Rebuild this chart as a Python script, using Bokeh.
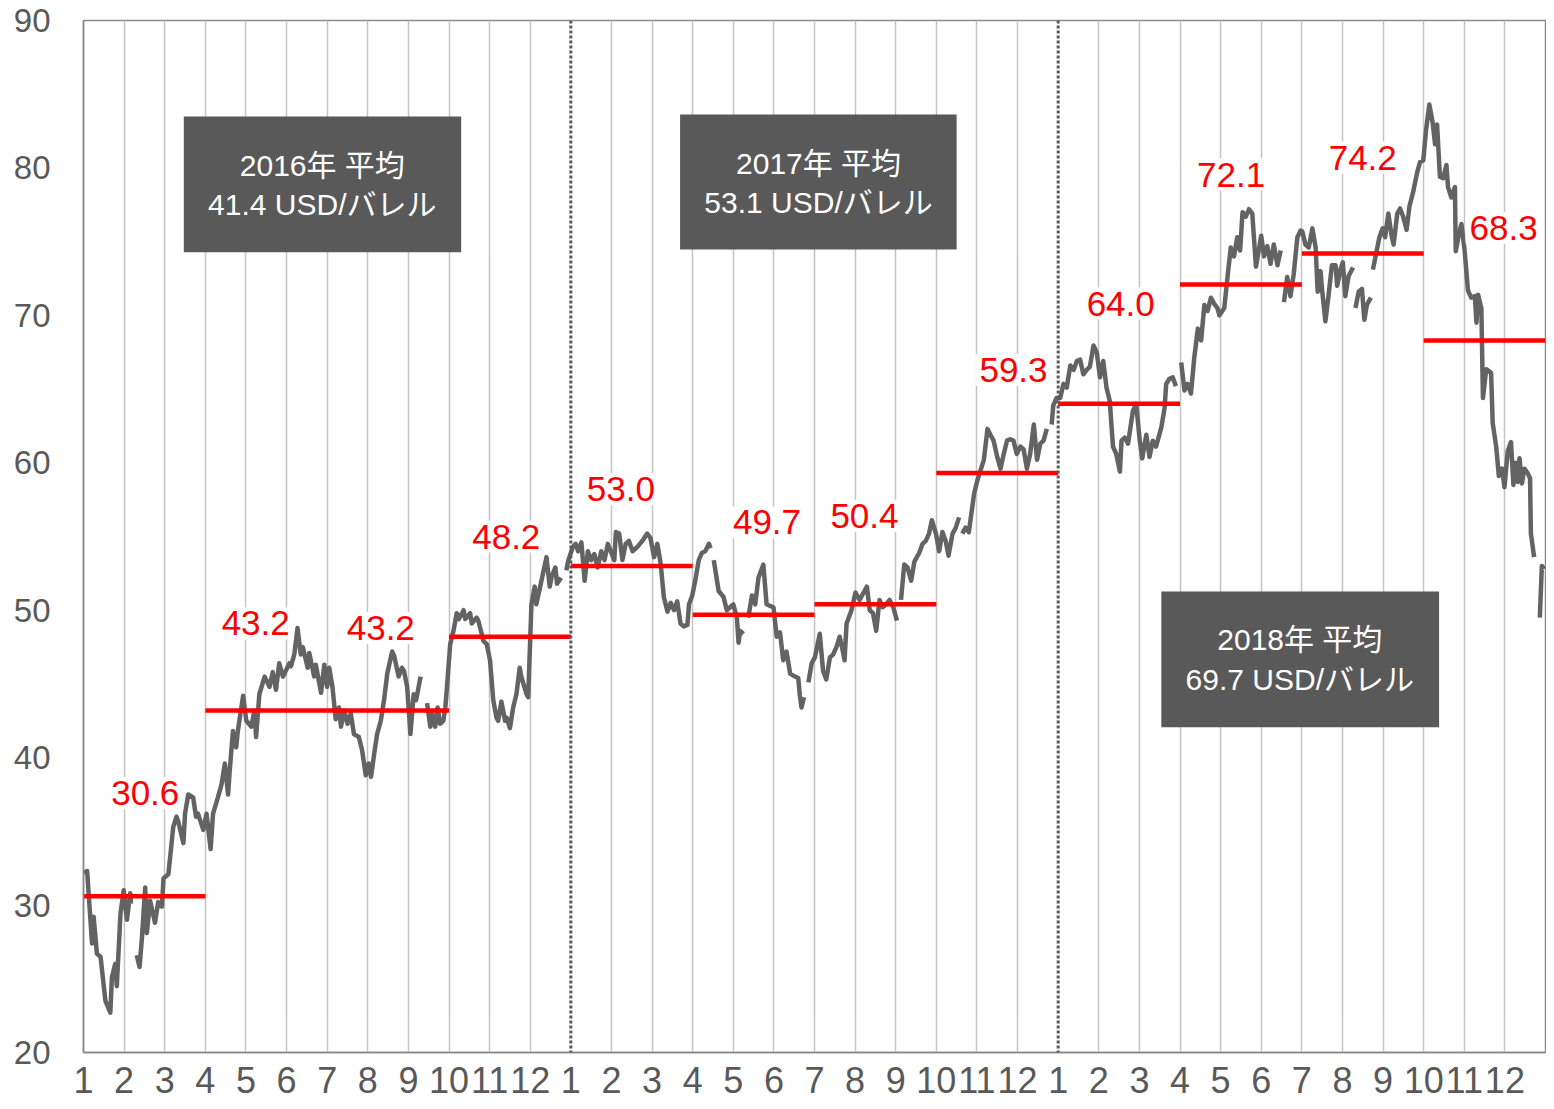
import math
from bokeh.plotting import figure
from bokeh.models import Range1d, FixedTicker, Span, Label
from bokeh.core.properties import value
from bokeh.embed import file_html
from bokeh.resources import INLINE

NaN = float("nan")

# ---- data: daily crude price (USD/bbl), x = months since Jan 2016 ----
month_pos = [
    0.01, 0.09, 0.21, 0.25, 0.33, 0.42, 0.54, 0.66, 0.70, 0.78, 0.82, 0.91, 0.99, 1.07, 1.15, 1.17, 1.24,
    1.31, 1.38, 1.44, 1.52, 1.56, 1.64, 1.76, 1.84, 1.93, 1.97, 2.09, 2.21, 2.29, 2.33, 2.46, 2.50, 2.58,
    2.70, 2.77, 2.82, 2.95, 3.03, 3.13, 3.19, 3.31, 3.40, 3.48, 3.56, 3.60, 3.68, 3.76, 3.80, 3.93, 4.01,
    4.13, 4.21, 4.25, 4.33, 4.46, 4.58, 4.66, 4.74, 4.82, 4.91, 4.95, 5.07, 5.11, 5.19, 5.27, 5.35, 5.40,
    5.52, 5.56, 5.68, 5.72, 5.85, 5.93, 6.00, 6.05, 6.13, 6.21, 6.29, 6.34, 6.42, 6.50, 6.58, 6.66, 6.78,
    6.86, 6.95, 7.02, 7.08, 7.16, 7.23, 7.32, 7.40, 7.48, 7.60, 7.65, 7.76, 7.84, 7.89, 7.97, 8.05, 8.13,
    8.19, 8.30, 8.38,
    8.46, 8.54, 8.58, 8.66, 8.72, 8.78, 8.86, 8.91, 8.95, 9.03, 9.11, 9.19, 9.24, 9.36, 9.40, 9.52, 9.56,
    9.68, 9.72, 9.85, 9.93, 10.01, 10.09, 10.17, 10.21, 10.29, 10.38, 10.42, 10.50, 10.58, 10.66, 10.74,
    10.78, 10.91, 10.95, 11.03, 11.11, 11.15, 11.26, 11.40, 11.48, 11.53, 11.62, 11.66, 11.76, 11.82,
    11.89, 11.93, 12.05, 12.12, 12.18, 12.26, 12.34, 12.42, 12.50, 12.58, 12.66, 12.75, 12.83, 12.91,
    13.07, 13.11, 13.19, 13.27, 13.35, 13.43, 13.52, 13.64, 13.76, 13.88, 13.96, 14.05, 14.13, 14.21,
    14.29, 14.38, 14.46, 14.54, 14.62, 14.70, 14.78, 14.87, 14.91, 14.99, 15.07, 15.15, 15.23, 15.31,
    15.40, 15.44, 15.48,
    15.52, 15.64, 15.76, 15.84, 15.92, 16.00, 16.09, 16.13, 16.17, 16.25, 16.31,
    16.37, 16.46, 16.54, 16.62, 16.74, 16.82, 16.90, 16.99, 17.07, 17.15, 17.23, 17.31, 17.40, 17.52,
    17.60, 17.64, 17.68, 17.74, 17.80,
    17.85, 17.93, 18.01, 18.13, 18.21, 18.29, 18.38, 18.46, 18.54, 18.62, 18.70, 18.74, 18.79, 18.91,
    19.01, 19.11, 19.19, 19.29, 19.36, 19.44, 19.52, 19.60, 19.68, 19.76, 19.85, 19.94, 20.03, 20.08,
    20.13, 20.21, 20.29, 20.38, 20.46, 20.58, 20.66, 20.74, 20.82, 20.89, 20.99, 21.07, 21.15, 21.23,
    21.30, 21.40, 21.48, 21.56, 21.60,
    21.64, 21.72, 21.80, 21.84, 21.93, 22.01, 22.09, 22.17, 22.26, 22.33, 22.41, 22.50, 22.58, 22.66,
    22.74, 22.82, 22.90, 22.98, 23.07, 23.15, 23.23, 23.31, 23.40, 23.48, 23.56, 23.64, 23.72, 23.78,
    23.84, 23.88, 23.96, 24.05, 24.13, 24.21, 24.30, 24.38, 24.46, 24.54, 24.62, 24.70, 24.78, 24.87,
    24.95, 25.03, 25.11, 25.19, 25.27, 25.35, 25.43, 25.52, 25.56, 25.64, 25.72, 25.84, 25.92, 26.01,
    26.07, 26.17, 26.25, 26.33, 26.41, 26.54, 26.62, 26.66, 26.74, 26.82, 26.90, 26.96,
    27.03, 27.11, 27.19, 27.27, 27.35, 27.44, 27.52, 27.60, 27.68, 27.76, 27.84, 27.92, 27.97, 28.09,
    28.17, 28.25, 28.33, 28.41, 28.48, 28.54, 28.62, 28.70, 28.78, 28.87, 28.95, 29.00, 29.07, 29.15,
    29.23, 29.31, 29.40, 29.48, 29.52,
    29.56, 29.64, 29.72, 29.80, 29.89, 29.97, 30.01, 30.09, 30.17, 30.26, 30.34, 30.39, 30.46, 30.50,
    30.58, 30.66, 30.74, 30.83, 30.87, 30.95, 31.01, 31.07, 31.15, 31.26, 31.29,
    31.32, 31.40, 31.48, 31.54, 31.60, 31.70, 31.72,
    31.75, 31.83, 31.91, 31.99, 32.05, 32.13, 32.21, 32.26, 32.35, 32.42, 32.50, 32.58, 32.65, 32.74,
    32.84, 32.91, 32.99, 33.06, 33.14, 33.22, 33.28, 33.33, 33.40, 33.48, 33.56, 33.60, 33.68, 33.77,
    33.79, 33.87, 33.93, 34.01, 34.09, 34.17, 34.26, 34.30, 34.34, 34.42, 34.46, 34.54, 34.66, 34.70,
    34.79, 34.85, 34.93, 34.99, 35.07, 35.15, 35.21, 35.26, 35.32, 35.36, 35.42, 35.48, 35.56, 35.62,
    35.64, 35.72, 35.79,
    35.86, 35.91, 35.97,
]
price = [
    32.2, 32.3, 27.4, 29.2, 26.7, 26.5, 23.5, 22.7, 25.1, 26.0, 24.5, 29.4, 31.0, 29.0, 30.8, 30.1, NaN,
    26.6, 25.8, 27.8, 31.2, 28.1, 30.3, 28.8, 30.2, 29.9, 31.8, 32.1, 35.3, 36.0, 35.7, 34.2, 36.2, 37.5,
    37.3, 36.0, 36.2, 35.1, 36.2, 33.8, 36.2, 37.3, 38.2, 39.6, 37.5, 39.1, 41.8, 40.7, 41.8, 44.2, 42.5,
    42.1, 43.2, 41.4, 44.3, 45.5, 44.8, 45.8, 44.6, 46.4, 45.5, 45.7, 46.4, 46.2, 47.0, 48.8, 47.0, 47.5,
    46.1, 47.1, 45.5, 46.3, 44.4, 46.3, 44.8, 46.1, 44.8, 42.6, 43.4, 42.1, 43.2, 42.3, 43.0, 41.6, 41.4,
    40.5, 38.8, 39.6, 38.7, 40.3, 41.6, 42.5, 43.9, 45.7, 47.2, 46.9, 45.5, 46.1, 45.9, 44.8, 41.6, 44.3,
    43.9, 45.5, NaN,
    43.7, 42.1, 43.0, 42.1, 43.4, 42.3, 42.5, 43.4, 44.8, 47.7, 48.6, 49.8, 49.4, 50.0, 49.4, 49.8, 49.1,
    49.5, 49.3, 47.9, 47.7, 46.6, 43.9, 42.7, 42.5, 43.8, 42.5, 42.7, 42.0, 43.4, 44.3, 46.1,
    45.5, 44.3, 44.1, 50.4, 51.6, 50.4, 51.8, 53.6, 51.6, 52.3, 52.9, 51.8, 52.2, NaN,
    52.7, 53.3, 54.3, 54.5, 54.0, 54.6, 52.0, 54.0, 53.4, 53.8, 52.9, 54.0, 53.4, 54.5,
    53.4, 55.3, 55.2, 53.4, 54.5, 54.7, 54.0, 54.3, 54.7, 55.2, 54.9, 53.6, 54.5, 53.2,
    50.9, 49.9, 50.5, 50.0, 50.6, 49.1, 48.9, 49.0, 50.4, 51.0, 52.1, 53.4, 53.9, 54.0,
    54.5, 54.2, NaN,
    53.4, 51.3, 50.9, 50.0, 50.2, 50.4, 49.5, 47.8, 48.6, 48.4, NaN,
    49.5, 51.0, 50.4, 52.2, 53.1, 50.4, 50.3, 50.2, 48.2, 48.5, 46.6, 47.2, 45.7, 45.5,
    45.4, 44.2, 43.4, 44.1, NaN,
    45.1, 46.4, 46.8, 48.4, 45.9, 45.3, 46.8, 47.0, 47.5, 48.2, 47.2, 46.6, 49.1, 50.0,
    51.2, 50.7, 51.1, 51.6, 50.0, 49.8, 48.6, 50.7, 50.2, 50.4, 50.7, 50.2, 49.3, NaN,
    50.7, 53.1, 52.9, 52.0, 53.3, 53.9, 54.5, 54.7, 55.2, 56.1, 55.2, 54.0, 55.3, 54.7,
    53.7, 55.2, 55.6, 56.3, NaN,
    55.2, 55.6, 55.3, 56.1, 57.9, 58.8, 59.5, 60.2, 62.3, 61.9, 61.5, 60.4, 59.6, 60.6,
    61.5, 61.6, 61.5, 60.6, 61.1, 60.9, 59.6, 60.6, 62.6, 60.2, 61.3, 61.5, 62.3, NaN,
    62.6, 63.9, 64.4, 64.4, 65.35, 65.1, 66.6, 66.3, 66.9, 67.0, 66.0, 66.3, 66.5, 67.95,
    67.5, 65.8, 66.9, 65.1, 64.2, 61.1, 60.6, 59.4, 61.5, 61.7, 61.3, 63.5, 64.0, 61.5,
    60.3, 61.9, 60.4, 61.5, 61.1, 62.4, 63.7, 65.35, 65.7, 65.8, 65.2, NaN,
    66.8, 64.9, 65.35, 64.7, 67.1, 69.1, 68.3, 70.7, 70.3, 71.2, 70.8, 70.5, 70.0, 70.5,
    72.6, 74.6, 74.0, 75.3, 74.4, 77.0, 76.7, 77.2, 76.9, 73.3, 74.6, 75.4, 74.0, 74.7,
    73.5, 74.8, 73.4, 74.4, NaN,
    70.9, 72.6, 71.3, 72.8, 75.3, 75.75, 75.7, 74.8, 74.6, 75.9, 74.6, 71.6, 73.0, 71.7,
    69.6, 71.4, 73.4, 73.4, 72.0, 73.1, 73.6, 71.3, 72.65, 73.25, NaN,
    70.5, 71.6, 71.8, 69.7, 70.7, 71.2, NaN,
    73.1, 74.2, 75.3, 75.9, 75.3, 76.9, 75.4, 74.8, 76.9, 77.25, 76.65, 75.8, 77.4, 78.35,
    79.7, 80.4, 80.5, 82.6, 84.3, 83.1, 81.6, 82.95, 79.4, 79.3, 80.2, 78.7, 78.0, 78.7,
    74.35, 75.55, 76.2, 74.35, 71.7, 71.2, 71.3, 69.5, 71.4, 70.5, 64.4, 66.35, 66.1, 62.7,
    61.0, 59.1, 59.6, 58.35, 60.8, 61.4, 58.5, 60.0, 58.7, 60.3, 58.6, 59.6, 59.3, 58.95,
    55.2, 53.6, NaN,
    49.5, 53.0, 52.8,
]

# quarterly averages
quarter_start = [0, 3, 6, 9, 12, 15, 18, 21, 24, 27, 30, 33]
quarter_avg = [30.6, 43.2, 43.2, 48.2, 53.0, 49.7, 50.4, 59.3, 64.0, 72.1, 74.2, 68.3]
quarter_text = ["30.6", "43.2", "43.2", "48.2", "53.0", "49.7", "50.4", "59.3", "64.0", "72.1", "74.2", "68.3"]

# yearly averages
year_title = ["2016年 平均", "2017年 平均", "2018年 平均"]
year_avg_text = ["41.4 USD/バレル", "53.1 USD/バレル", "69.7 USD/バレル"]

# axes
y_ticks = [20, 30, 40, 50, 60, 70, 80, 90]
month_ticks = list(range(36))
month_labels = ["1", "2", "3", "4", "5", "6", "7", "8", "9", "10", "11", "12",
                "1", "2", "3", "4", "5", "6", "7", "8", "9", "10", "11", "12",
                "1", "2", "3", "4", "5", "6", "7", "8", "9", "10", "11", "12"]
year_starts = [12, 24]

# ---- layout (positions) ----
label_pos = [(1.52, 37.6), (4.24, 49.1), (7.32, 48.8), (10.41, 55.0), (13.23, 58.2), (16.83, 55.95),
             (19.23, 56.4), (22.9, 66.3), (25.54, 70.8), (28.26, 79.55), (31.5, 80.7), (34.97, 75.95)]
box_rect = [(2.47, 9.30, 83.49, 74.28), (14.69, 21.50, 83.62, 74.47), (26.54, 33.38, 51.27, 42.07)]
box_text_pos = [(5.88, 80.16, 77.52), (18.1, 80.30, 77.66), (29.95, 48.01, 45.30)]

LATIN = "Liberation Sans"
MIXED = "Liberation Sans, Noto Sans CJK JP"
GRAY_TXT = "#595959"

p = figure(width=1546, height=1101, output_backend="svg", toolbar_location=None,
           x_range=Range1d(0, 36), y_range=Range1d(20, 90),
           min_border_left=83, min_border_right=1, min_border_top=20, min_border_bottom=49)
p.background_fill_color = "white"
p.border_fill_color = "white"
p.outline_line_color = "#8c8c8c"
p.outline_line_width = 1.5

# axes
p.yaxis.ticker = FixedTicker(ticks=y_ticks)
p.yaxis.major_label_text_font = LATIN
p.yaxis.major_label_text_font_size = "33px"
p.yaxis.major_label_text_color = GRAY_TXT
p.yaxis.major_label_standoff = 27
p.yaxis.axis_line_color = "#868686"
p.yaxis.axis_line_width = 1.5
p.yaxis.major_tick_line_color = None
p.yaxis.minor_tick_line_color = None

p.xaxis.ticker = FixedTicker(ticks=month_ticks)
p.xaxis.major_label_overrides = {t: l for t, l in zip(month_ticks, month_labels)}
p.xaxis.major_label_text_font = LATIN
p.xaxis.major_label_text_font_size = "36px"
p.xaxis.major_label_text_color = GRAY_TXT
p.xaxis.major_label_standoff = 8
p.xaxis.axis_line_color = "#868686"
p.xaxis.axis_line_width = 1.5
p.xaxis.major_tick_line_color = None
p.xaxis.minor_tick_line_color = None

p.xgrid.ticker = FixedTicker(ticks=[t for t in month_ticks if t not in [0] + year_starts])
p.xgrid.grid_line_color = "#c4c4c4"
p.xgrid.grid_line_width = 1.5
p.ygrid.grid_line_color = None

# price line
p.line(month_pos, price, line_color="#636363", line_width=4.5, line_join="round")

# quarterly average lines
p.segment(x0=quarter_start, y0=quarter_avg, x1=[q + 3 for q in quarter_start], y1=quarter_avg,
          line_color="#ff0000", line_width=4.5)

# yearly boxes
p.quad(left=[b[0] for b in box_rect], right=[b[1] for b in box_rect],
       top=[b[2] for b in box_rect], bottom=[b[3] for b in box_rect],
       fill_color="#595959", line_color=None)

for ys in year_starts:
    p.add_layout(Span(location=ys, dimension="height", line_color="#595959",
                      line_dash="3 2", line_width=3))

for (lx, ly), txt in zip(label_pos, quarter_text):
    p.add_layout(Label(x=lx, y=ly, text=txt, text_color="#ff0000", text_font=LATIN,
                       text_font_size="35px", text_align="center", text_baseline="middle",
                       background_fill_color="white", padding=4))

for (cx, y1, y2), t1, t2 in zip(box_text_pos, year_title, year_avg_text):
    p.add_layout(Label(x=cx, y=y1, text=t1, text_color="white", text_font=MIXED,
                       text_font_size="30px", text_align="center", text_baseline="middle"))
    p.add_layout(Label(x=cx, y=y2, text=t2, text_color="white", text_font=MIXED,
                       text_font_size="30px", text_align="center", text_baseline="middle"))

open("out.html", "w").write(file_html(p, INLINE))
